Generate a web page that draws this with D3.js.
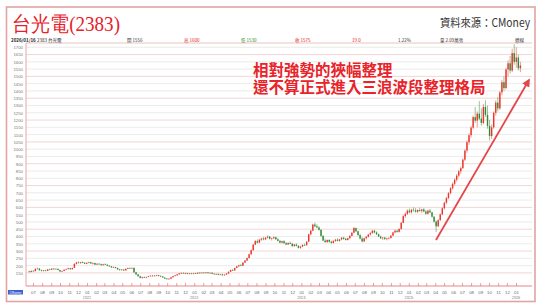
<!DOCTYPE html>
<html>
<head>
<meta charset="utf-8">
<title>台光電(2383)</title>
<style>
  body { margin: 0; background: #fff; }
  svg { display: block; font-family: "Noto Sans CJK TC", "Noto Sans", sans-serif; }
</style>
</head>
<body>
<div id="chart"></div>
<script src="https://cdnjs.cloudflare.com/ajax/libs/d3/7.8.5/d3.min.js"></script>
<script>
// weekly candles, [open, high, low, close], first week = 2021/06/18
const firstWeek = new Date(2021, 5, 18);

const ohlc2021 = [
  [160,164,152,156],[156,166,154,164],[164,170,160,162],[162,181,161,178],[178,186,174,180],
  [180,182,166,168],[168,172,160,163],[163,170,160,167],[167,171,161,164],[164,176,163,174],
  [174,180,170,172],[172,182,171,179],[179,183,172,175],[175,181,173,178],[178,180,168,170],
  [170,172,158,160],[160,166,156,163],[163,174,162,172],[172,180,168,176],[176,186,174,182],
  [182,184,172,175],[175,186,174,184],[184,216,183,212],[212,226,208,222],[222,228,214,218],
  [218,226,212,224],[224,230,216,219],[219,224,210,213],[213,222,210,220]
];
const ohlc2022 = [
  [220,228,216,224],[224,226,212,215],[215,222,208,218],[218,220,204,207],[207,216,204,213],
  [213,218,206,210],[210,214,200,203],[203,212,200,209],[209,216,204,206],[206,210,196,199],
  [199,204,192,195],[195,198,184,188],[188,194,184,190],[190,192,180,184],[184,186,172,174],
  [174,178,166,169],[169,176,166,173],[173,175,164,167],[167,180,166,178],[178,186,176,184],
  [184,188,178,181],[181,186,176,185],[185,186,150,154],[154,158,136,140],[140,142,124,127],
  [127,130,112,116],[116,124,110,121],[121,126,116,118],[118,124,112,122],[122,130,120,127],
  [127,134,124,131],[131,136,126,128],[128,133,124,132],[132,138,128,134],[134,136,126,129],
  [129,134,122,125],[125,128,116,118],[118,120,108,111],[111,114,104,107],[107,113,103,110],
  [110,122,108,120],[120,130,118,128],[128,136,126,133],[133,142,130,140],[140,150,138,147],
  [147,154,144,150],[150,153,143,146],[146,152,142,149],[149,151,141,144],[144,149,140,146],
  [146,150,141,143],[143,149,140,147]
];
const ohlc2023 = [
  [147,152,143,145],[145,153,144,151],[151,155,146,148],[148,154,146,152],[152,156,147,149],
  [149,155,147,153],[153,156,146,148],[148,153,145,151],[151,154,142,144],[144,148,138,140],
  [140,146,136,143],[143,145,134,137],[137,142,133,140],[140,144,132,134],[134,140,130,138],
  [138,148,136,146],[146,160,144,158],[158,172,156,170],[170,178,164,167],[167,186,166,184],
  [184,198,182,195],[195,206,190,202],[202,212,196,199],[199,224,198,221],[221,238,218,235],
  [235,256,232,252],[252,282,250,278],[278,312,274,306],[306,350,302,344],[344,376,340,368],
  [368,380,352,358],[358,384,355,378],[378,392,370,386],[386,398,374,380],[380,396,376,392],
  [392,408,386,399],[399,404,380,384],[384,392,372,388],[388,400,382,395],[395,398,378,381],
  [381,390,366,370],[370,376,354,358],[358,372,352,368],[368,374,350,354],[354,362,340,345],
  [345,360,342,356],[356,366,348,350],[350,356,330,334],[334,348,330,345],[345,352,332,336],
  [336,340,318,322],[322,336,316,331]
];
const ohlc2024 = [
  [331,346,328,342],[342,352,336,340],[340,368,338,365],[365,420,362,415],[415,446,408,440],
  [440,488,436,482],[482,496,464,470],[470,484,456,462],[462,470,440,446],[446,450,398,404],
  [404,410,368,372],[372,386,356,362],[362,380,356,376],[376,382,358,364],[364,372,350,356],
  [356,374,352,370],[370,384,362,378],[378,388,366,370],[370,382,364,380],[380,396,374,392],
  [392,398,378,384],[384,390,372,376],[376,392,372,388],[388,410,384,404],[404,430,400,426],
  [426,466,420,458],[458,462,430,436],[436,440,404,410],[410,418,380,386],[386,396,360,366],
  [366,392,362,388],[388,404,380,398],[398,418,392,414],[414,432,406,424],[424,446,418,440],
  [440,446,422,428],[428,436,410,416],[416,420,396,400],[400,406,382,388],[388,396,376,392],
  [392,398,378,382],[382,392,374,386],[386,396,380,390],[390,410,386,406],[406,432,402,428],
  [428,448,422,440],[440,446,426,432],[432,456,428,452],[452,500,448,494],[494,548,490,540],
  [540,566,528,556],[556,586,548,578]
];
const ohlc2025 = [
  [578,592,560,566],[566,590,558,584],[584,600,572,580],[580,596,564,570],[570,586,560,582],
  [582,598,570,576],[576,590,562,586],[586,596,566,572],[572,582,550,556],[556,584,552,578],
  [578,590,562,566],[566,570,530,536],[536,540,496,502],[502,512,430,470],[470,520,466,512],
  [512,560,508,552],[552,600,546,594],[594,640,586,632],[632,672,622,664],[664,706,656,698],
  [698,740,690,732],[732,772,720,762],[762,800,750,790],[790,830,776,818],[818,858,806,848],
  [848,880,830,870],[870,936,864,928],[928,1000,918,990],[990,1060,976,1048],[1048,1110,1030,1096],
  [1096,1160,1080,1148],[1148,1230,1136,1220],[1220,1290,1180,1196],[1196,1260,1150,1244],[1244,1330,1200,1210],
  [1210,1280,1160,1180],[1180,1310,1170,1290],[1290,1336,1220,1236],[1236,1300,1140,1160],[1160,1200,1060,1090],
  [1090,1170,1070,1150],[1150,1260,1140,1250],[1250,1336,1230,1320],[1320,1360,1260,1280],[1280,1400,1270,1390],
  [1390,1476,1370,1460],[1460,1500,1400,1420],[1420,1560,1410,1548],[1548,1610,1500,1590],[1590,1640,1520,1540],
  [1540,1690,1530,1660],[1660,1720,1580,1600]
];
const ohlc2026 = [
  [1600,1700,1560,1630],[1630,1650,1540,1556],[1556,1600,1530,1575]
];

const yTicks = d3.range(150, 1701, 50);
const title = "台光電(2383)";
const source = "資料來源：CMoney";
const notes = ["相對強勢的狹幅整理", "還不算正式進入三浪波段整理格局"];
const quoteDate = "2026/01/16";
const quoteName = "2383 台光電";
const quoteItems = ["開 1556", "高 1600", "低 1530", "收 1575", "19.0", "1.22%", "量 2.09萬張", "週線"];

const W = 543, H = 308;
const plot = { left: 26, right: 532, top: 43, bottom: 286 };

const svg = d3.select("#chart").append("svg")
  .attr("width", W).attr("height", H);

const candles = [].concat(ohlc2021, ohlc2022, ohlc2023, ohlc2024, ohlc2025, ohlc2026)
  .map((d, i) => ({ date: d3.timeWeek.offset(firstWeek, i), o: d[0], h: d[1], l: d[2], c: d[3] }));

const x = d3.scaleTime()
  .domain([new Date(2021, 6, 1), new Date(2026, 0, 1)])
  .range([33, 516]);
const y = d3.scaleLinear()
  .domain([60, 1750])
  .range([plot.bottom, 40]);

// outer frame
svg.append("rect")
  .attr("x", 6.5).attr("y", 7).attr("width", 528.5).attr("height", 294.5)
  .attr("fill", "none").attr("stroke", "#e3a3a3").attr("stroke-width", 1.6);

// title + source
svg.append("text")
  .attr("x", 12).attr("y", 31)
  .attr("font-family", "'Liberation Serif', 'DejaVu Serif', serif")
  .attr("font-size", 21).attr("fill", "#e8202a")
  .attr("textLength", 108).attr("lengthAdjust", "spacingAndGlyphs")
  .text(title);
svg.append("text")
  .attr("x", 530).attr("y", 27).attr("text-anchor", "end")
  .attr("font-size", 11.5).attr("fill", "#333")
  .attr("textLength", 90).attr("lengthAdjust", "spacingAndGlyphs")
  .text(source);

// quote header row
const hdr = svg.append("g").attr("font-size", 4.5);
hdr.append("text").attr("x", 11).attr("y", 41.5).attr("font-weight", "bold").attr("fill", "#222").text(quoteDate);
hdr.append("text").attr("x", 37).attr("y", 41.5).attr("fill", "#222").text(quoteName);
const quoteX = [127, 184, 241, 295, 352, 398, 440, 515];
const quoteCol = ["#333", "#e02020", "#2a8a2a", "#e02020", "#e02020", "#333", "#333", "#333"];
hdr.selectAll(".q").data(quoteItems).join("text")
  .attr("class", "q")
  .attr("x", (d, i) => quoteX[i]).attr("y", 41.5)
  .attr("fill", (d, i) => quoteCol[i])
  .text(d => d);

// grid
svg.append("g").selectAll("line").data(yTicks).join("line")
  .attr("x1", plot.left).attr("x2", plot.right)
  .attr("y1", d => y(d)).attr("y2", d => y(d))
  .attr("stroke", d => d % 150 === 0 ? "#efcccc" : "#e6e6e6")
  .attr("stroke-width", 0.8);

// y axis
const yAxis = svg.append("g")
  .attr("transform", `translate(${plot.left},0)`)
  .call(d3.axisLeft(y).tickValues(yTicks).tickSize(0).tickPadding(3).tickFormat(d3.format("d")));
yAxis.select(".domain").remove();
yAxis.selectAll("text").attr("font-size", 4.3).attr("fill", "#777").attr("font-family", null);

// x axis (monthly)
const months = d3.timeMonth.range(new Date(2021, 6, 1), new Date(2026, 0, 2));
const xAxis = svg.append("g")
  .attr("transform", `translate(0,${plot.bottom})`)
  .call(d3.axisBottom(x).tickValues(months).tickSize(-3).tickPadding(5).tickFormat(d3.timeFormat("%m")));
xAxis.select(".domain").remove();
xAxis.selectAll(".tick line").attr("stroke", "#e06060").attr("stroke-width", 0.6);
xAxis.selectAll("text").attr("font-size", 4.3).attr("fill", "#666").attr("font-family", null);

// year labels under January
const years = months.filter(d => d.getMonth() === 0);
svg.append("g").selectAll("text").data(years).join("text")
  .attr("x", d => x(d)).attr("y", 298.5).attr("text-anchor", "middle")
  .attr("font-size", 3.8).attr("fill", "#777")
  .text(d3.timeFormat("%Y"));

// axis lines
svg.append("line")
  .attr("x1", plot.left).attr("x2", plot.right).attr("y1", plot.top).attr("y2", plot.top)
  .attr("stroke", "#e8b4b4").attr("stroke-width", 0.8);
svg.append("line")
  .attr("x1", plot.left).attr("x2", plot.left).attr("y1", plot.top).attr("y2", plot.bottom)
  .attr("stroke", "#e09090").attr("stroke-width", 0.8);
svg.append("line")
  .attr("x1", plot.left).attr("x2", plot.right).attr("y1", plot.bottom).attr("y2", plot.bottom)
  .attr("stroke", "#e06868").attr("stroke-width", 0.8);

// candles
const up = "#e8362a", down = "#2f8a35";
const cw = 1.4;
const cg = svg.append("g").selectAll("g").data(candles).join("g");
cg.append("line")
  .attr("x1", d => x(d.date)).attr("x2", d => x(d.date))
  .attr("y1", d => y(d.h)).attr("y2", d => y(d.l))
  .attr("stroke", d => d.c >= d.o ? up : down).attr("stroke-width", 0.5);
cg.append("rect")
  .attr("x", d => x(d.date) - cw / 2)
  .attr("y", d => y(Math.max(d.o, d.c)))
  .attr("width", cw)
  .attr("height", d => Math.max(0.6, Math.abs(y(d.o) - y(d.c))))
  .attr("fill", d => d.c >= d.o ? up : down);

// bottom-left badge
svg.append("rect").attr("x", 8).attr("y", 290).attr("width", 15).attr("height", 4.5).attr("fill", "#3d5fcf");
svg.append("text").attr("x", 15.5).attr("y", 293.6).attr("text-anchor", "middle")
  .attr("font-size", 3.2).attr("fill", "#fff").text("CMoney");

// annotation
svg.append("g").selectAll("text").data(notes).join("text")
  .attr("x", 253).attr("y", (d, i) => 76 + i * 17)
  .attr("font-size", 15.5).attr("font-weight", "bold").attr("fill", "#e8232a")
  .text(d => d);

svg.append("defs").append("marker")
  .attr("id", "arrow").attr("viewBox", "0 0 10 10")
  .attr("refX", 8).attr("refY", 5)
  .attr("markerWidth", 4.5).attr("markerHeight", 4.5)
  .attr("orient", "auto")
  .append("path").attr("d", "M0,0 L10,5 L0,10 z").attr("fill", "#e4474a");
svg.append("line")
  .attr("x1", 436).attr("y1", 240).attr("x2", 529).attr("y2", 80)
  .attr("stroke", "#e4474a").attr("stroke-width", 1.8)
  .attr("marker-end", "url(#arrow)");
</script>
</body>
</html>
